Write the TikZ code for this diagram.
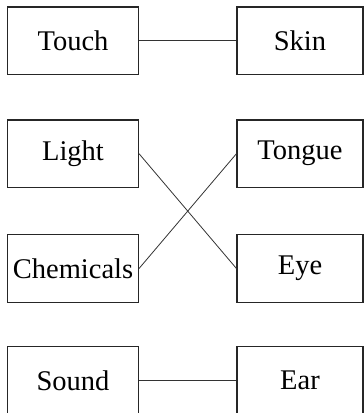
\documentclass[tikz,border=0pt]{standalone}
\usepackage{fontspec}
\setmainfont{Liberation Serif}
\begin{document}
\begin{tikzpicture}[x=1pt,y=-1pt,
  lbox/.style={draw=black!85,line width=1.1pt,minimum width=131pt,minimum height=67.5pt,inner sep=0pt,font=\fontsize{28.5}{30}\selectfont},
  rbox/.style={lbox,minimum width=126pt},
  link/.style={draw=black!80,line width=1pt},
  cross/.style={draw=black!80,line width=0.8pt}]
\useasboundingbox (0,0) rectangle (364,413);
\clip (0,0) rectangle (364,413);
\node[lbox] (touch) at (73,40.7) {Touch};
\node[rbox] (skin) at (300,40.7) {Skin};
\node[lbox] (light) at (73,153.7) {Light};
\node[rbox] (tongue) at (300,153.7) {Tongue};
\node[lbox] (chem) at (73,268.5) {Chemicals};
\node[rbox] (eye) at (300,268.5) {Eye};
\node[lbox] (sound) at (73,380.5) {Sound};
\node[rbox] (ear) at (300,380.5) {Ear};
\draw[link] (touch.east) -- (skin.west);
\draw[cross] (light.east) -- (eye.west);
\draw[cross] (chem.east) -- (tongue.west);
\draw[link] (sound.east) -- (ear.west);
\end{tikzpicture}
\end{document}
